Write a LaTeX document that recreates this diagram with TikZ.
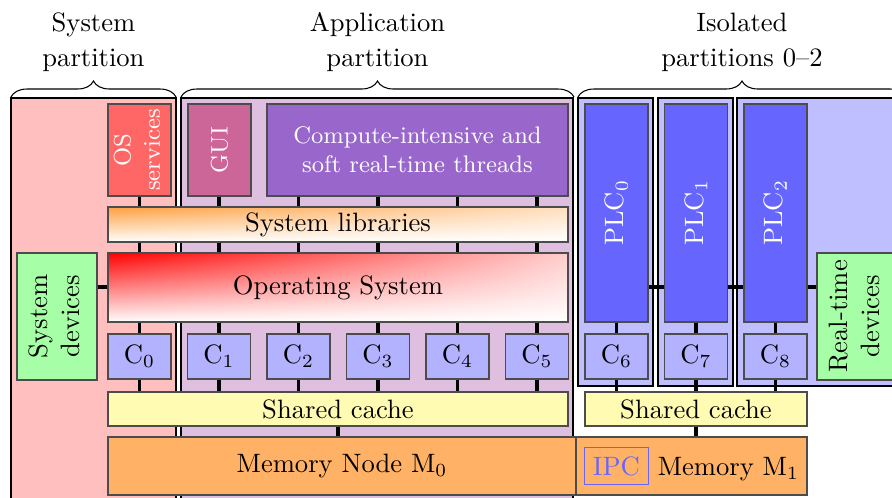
\documentclass[tikz,border=0pt]{standalone}
\usepackage{graphicx}
\usetikzlibrary{shadings, decorations.pathreplacing}

\definecolor{syspartcol}{HTML}{FFBFBF}
\definecolor{apppartcol}{HTML}{DFBFDF}
\definecolor{guicol}{HTML}{CC6699}
\definecolor{compcol}{HTML}{9966CC}

% picture unit (one pixel of the layout)
\def\u{0.376pt}

% box spanning the corners (x1,y1)-(x2,y2), in picture units
\newcommand{\layerbox}[7]{%
    \node[#1, minimum width={(#5-#3)*\u}, minimum height={(#6-#4)*\u}]
        (#2) at ({(#3+#5)/2},{(#4+#6)/2}) {#7};}

\begin{document}
\begin{tikzpicture}[
    x=\u, y=-\u,
    part/.style={draw=black, line width=1pt},
    box/.style={draw=black!70, line width=0.4pt, inner sep=0pt},
    core/.style={box, fill=blue!30},
    plc/.style={box, fill=blue!60, text=white},
    cache/.style={box, fill=yellow!30},
    mem/.style={box, fill=orange!60},
    dev/.style={box, fill=green!35},
    wire/.style={line width=1.5pt},
    bracket/.style={decorate, decoration={brace, amplitude=6pt}, line width=0.4pt}
]

% picture frame (partitions run off the edge)
\useasboundingbox (0,0) rectangle (892,498);
\clip (0,0) rectangle (892,498);

% =========================
% PARTITIONS
% =========================
\draw[part, fill=syspartcol] (11,98) rectangle (176,530);
\draw[part, fill=apppartcol] (181,98) rectangle (573,530);
\foreach \a/\b in {578/653, 658/733, 737/910}
    \draw[part, fill=blue!25] (\a,98) rectangle (\b,386);

\draw[bracket] (11,97) -- (176,97)
    node[midway, above=6pt, align=center] (syslbl) {System\\[1.2pt]partition};
\draw[bracket] (181,97) -- (574,97)
    node[midway, above=6pt, align=center] (applbl) {Application\\[1.2pt]partition};
\draw[bracket] (578,97) -- (906,97)
    node[midway, above=6pt, align=center] (isolbl) {Isolated\\[1.2pt]partitions 0--2};

% =========================
% SOFTWARE LAYERS
% =========================
\layerbox{box, fill=red!60, text=white, font=\small}{srv}{108}{104}{171}{196}
    {\rotatebox{90}{\begin{tabular}{@{}c@{}}OS\\services\end{tabular}}}
\layerbox{box, fill=guicol, text=white, font=\small}{gui}{188}{104}{251}{196}
    {\rotatebox{90}{GUI}}
\layerbox{box, fill=compcol, text=white, font=\small, align=center}{comp}{267}{104}{568}{196}
    {Compute-intensive and\\soft real-time threads}

\layerbox{box, upper left=orange!75, upper right=orange!25, lower left=white, lower right=white}
    {lib}{108}{207}{568}{242}{System libraries}
\layerbox{box, upper left=red, upper right=red!20, lower left=white, lower right=white}
    {os}{108}{253}{568}{322}{Operating System}

\layerbox{dev}{sysdev}{17}{253}{97}{380}
    {\rotatebox{90}{\begin{tabular}{@{}c@{}}System\\devices\end{tabular}}}
\layerbox{dev}{rtdev}{817}{253}{897}{380}
    {\rotatebox{90}{\begin{tabular}{@{}c@{}}Real-time\\devices\end{tabular}}}

\foreach \i in {0,1,2} {
    \pgfmathsetmacro\xa{585+79.5*\i}
    \pgfmathsetmacro\xb{\xa+63}
    \layerbox{plc}{plc\i}{\xa}{104}{\xb}{322}{\rotatebox{90}{PLC$_\i$}}
}

% =========================
% CORES, CACHES, MEMORY
% =========================
\foreach \i in {0,...,8} {
    \pgfmathsetmacro\xa{108+79.5*\i}
    \pgfmathsetmacro\xb{\xa+63}
    \layerbox{core}{c\i}{\xa}{334}{\xb}{379}{C$_\i$}
}

\layerbox{cache}{cache0}{108}{392}{568}{426}{Shared cache}
\layerbox{cache}{cache1}{585}{392}{807}{426}{Shared cache}

\layerbox{mem}{mem0}{108}{437}{576}{495}{Memory Node M$_0$}
\layerbox{mem}{mem1}{576}{437}{807}{495}
    {\textcolor{blue!60}{\fbox{IPC}}\ Memory M$_1$}

% =========================
% CONNECTIONS
% =========================
\foreach \i in {0,...,5} {
    \draw[wire] (c\i |- comp.south) -- (c\i |- lib.north);
    \draw[wire] (c\i |- lib.south) -- (c\i |- os.north);
    \draw[wire] (c\i |- os.south) -- (c\i.north);
    \draw[wire] (c\i.south) -- (c\i |- cache0.north);
}
\foreach \j/\i in {0/6, 1/7, 2/8} {
    \draw[wire] (plc\j.south) -- (c\i.north);
    \draw[wire] (c\i.south) -- (c\i |- cache1.north);
}

\draw[wire] (sysdev.east |- os.west) -- (os.west);
\draw[wire] (plc0.east |- os.east) -- (plc1.west |- os.east);
\draw[wire] (plc1.east |- os.east) -- (plc2.west |- os.east);
\draw[wire] (plc2.east |- os.east) -- (rtdev.west |- os.east);

\draw[wire] (cache0.south) -- (cache0.south |- mem0.north);
\draw[wire] (cache1.south) -- (cache1.south |- mem1.north);
\end{tikzpicture}
\end{document}
